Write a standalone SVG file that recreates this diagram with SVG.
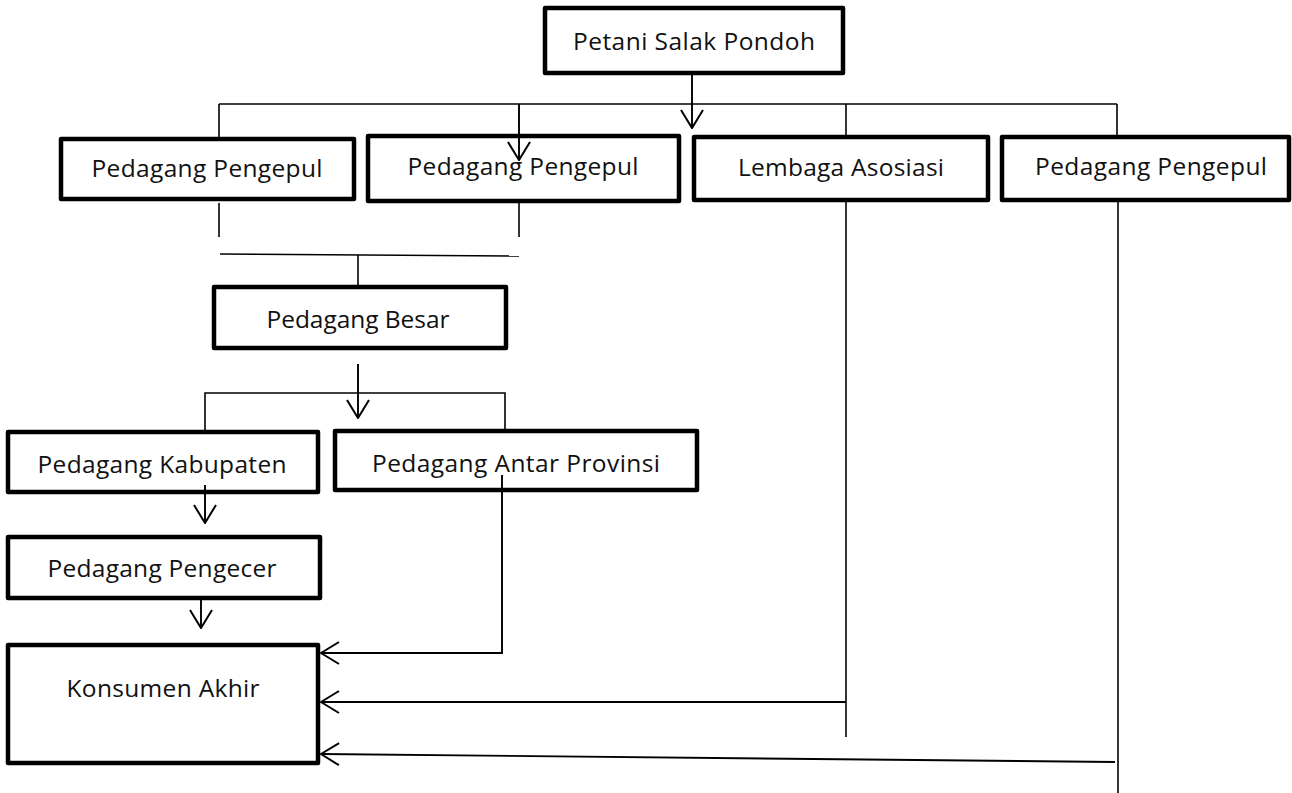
<svg xmlns="http://www.w3.org/2000/svg" width="1292" height="793" viewBox="0 0 1292 793">
<style>
.box{fill:#fff;stroke:#000;stroke-width:4.5;stroke-linejoin:round}
.lbl{font-family:"Open Sans","Liberation Sans",sans-serif;font-size:24.5px;fill:#111;text-anchor:middle}
.ln{fill:none;stroke:#000;stroke-width:1.6}
.ar{fill:none;stroke:#000;stroke-width:1.9;marker-end:url(#ah)}
</style>
<defs>
<marker id="ah" markerUnits="userSpaceOnUse" viewBox="0 0 20 24" refX="19" refY="12" markerWidth="20" markerHeight="24" orient="auto">
<path d="M1,1 L19,12 L1,23" fill="none" stroke="#000" stroke-width="2"/>
</marker>
</defs>
<g id="n_petani"><rect class="box" x="545" y="8" width="298" height="65"/><text class="lbl" x="694" y="50" textLength="242">Petani Salak Pondoh</text></g>
<g id="n_pengepul1"><rect class="box" x="61" y="139" width="293" height="60"/><text class="lbl" x="207" y="177" textLength="231">Pedagang Pengepul</text></g>
<g id="n_pengepul2"><rect class="box" x="368" y="136" width="311" height="65"/><text class="lbl" x="523" y="175" textLength="231">Pedagang Pengepul</text></g>
<g id="n_lembaga"><rect class="box" x="694" y="137" width="294" height="63"/><text class="lbl" x="841" y="176" textLength="206">Lembaga Asosiasi</text></g>
<g id="n_pengepul3"><rect class="box" x="1002" y="137" width="287" height="63"/><text class="lbl" x="1151" y="175" textLength="232">Pedagang Pengepul</text></g>
<g id="n_besar"><rect class="box" x="214" y="287" width="292" height="61"/><text class="lbl" x="358" y="328" textLength="183">Pedagang Besar</text></g>
<g id="n_kabupaten"><rect class="box" x="8" y="432" width="310" height="60"/><text class="lbl" x="162" y="473" textLength="249">Pedagang Kabupaten</text></g>
<g id="n_antar"><rect class="box" x="335" y="431" width="362" height="59"/><text class="lbl" x="516" y="472" textLength="288">Pedagang Antar Provinsi</text></g>
<g id="n_pengecer"><rect class="box" x="8" y="537" width="312" height="61"/><text class="lbl" x="162" y="577" textLength="229">Pedagang Pengecer</text></g>
<g id="n_konsumen"><rect class="box" x="8" y="645" width="310" height="118"/><text class="lbl" x="163" y="697" textLength="193">Konsumen Akhir</text></g>
<g id="connectors">
<path class="ar" d="M692,73 L692,128"/>
<path class="ln" d="M219,104 L1117,104"/>
<path class="ln" d="M219,104 L219,139"/>
<path class="ar" d="M519,104 L519,160"/>
<path class="ln" d="M846,104 L846,137"/>
<path class="ln" d="M1117,104 L1117,137"/>
<path class="ln" d="M219,203 L219,237"/>
<path class="ln" d="M519,203 L519,237"/>
<path class="ln" d="M220,254 L519,256"/>
<path class="ln" d="M358,255 L358,287"/>
<path class="ar" d="M358,364 L358,418"/>
<path class="ln" d="M205,430 L205,393 L505,393 L505,430"/>
<path class="ar" d="M205,485 L205,523"/>
<path class="ar" d="M201,600 L201,628"/>
<path class="ar" d="M502,475 L502,653 L321,653"/>
<path class="ln" d="M846,201 L846,737"/>
<path class="ar" d="M846,702 L321,702"/>
<path class="ln" d="M1118,201 L1118,793"/>
<path class="ar" d="M1115,762 L321,754"/>
</g>
</svg>
